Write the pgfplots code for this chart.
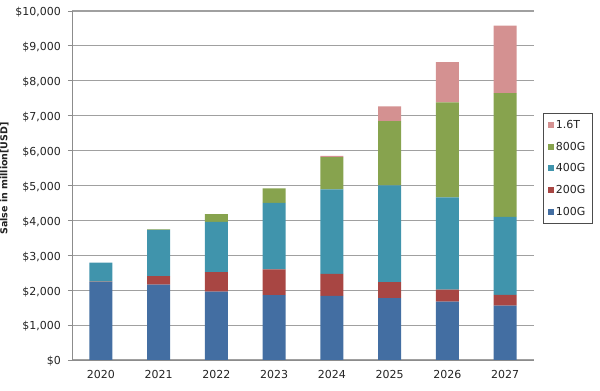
\documentclass[border=0pt]{standalone}
\usepackage{pgfplots}
\pgfplotsset{compat=1.18}
\usepackage{fontspec}
\setmainfont{DejaVu Sans}
\definecolor{c100}{RGB}{67,110,162}
\definecolor{c200}{RGB}{168,70,67}
\definecolor{c400}{RGB}{64,148,172}
\definecolor{c800}{RGB}{135,163,78}
\definecolor{c16}{RGB}{212,145,145}
\definecolor{gridc}{RGB}{160,160,160}
\definecolor{axc}{RGB}{140,140,140}
\definecolor{txt}{RGB}{35,35,35}
\pgfplotstableread{
x g100 g200 g400 g800 t16
0 2230 15 545 0 0
1 2160 240 1325 20 0
2 1960 560 1440 220 0
3 1860 740 1900 420 0
4 1840 630 2420 925 37
5 1770 460 2770 1845 420
6 1670 345 2645 2720 1155
7 1560 305 2235 3550 1930
}\data
\begin{document}
\begin{tikzpicture}
\useasboundingbox (0,0) rectangle (600bp,391bp);
\begin{axis}[
  at={(72bp,31bp)}, anchor=south west,
  width=462bp, height=349bp, scale only axis,
  ybar stacked, bar width=23bp,
  xmin=-0.5, xmax=7.5, ymin=0, ymax=10000,
  scaled ticks=false,
  axis x line*=bottom, axis y line*=left,
  axis line style={axc, line width=0.9bp},
  xtick={0,...,7},
  xticklabels={2020,2021,2022,2023,2024,2025,2026,2027},
  x tick style={draw=none},
  extra x ticks={-0.5,0.5,...,7.5},
  extra x tick labels={},
  extra x tick style={major tick length=4bp, tick style={axc, line width=0.9bp, draw=axc}, grid=none},
  ytick={0,1000,...,10000},
  yticklabels={\$0,\$1{,}000,\$2{,}000,\$3{,}000,\$4{,}000,\$5{,}000,\$6{,}000,\$7{,}000,\$8{,}000,\$9{,}000,\$10{,}000},
  tick align=outside, major tick length=4bp,
  y tick style={axc, line width=0.9bp},
  ymajorgrids, grid style={gridc, line width=1.1bp},
  tick label style={font=\fontsize{11bp}{12bp}\selectfont, text=txt},
  yticklabel style={xshift=-3.5bp, yshift=-1.5bp},
  xticklabel style={yshift=-3bp},
  ylabel={\bfseries Salse in million[USD]},
  ylabel style={font=\fontsize{9.5bp}{11bp}\selectfont, text=txt},
  every axis y label/.append style={at={(ticklabel cs:0.52)}},
  legend reversed,
  legend style={at={(1,0.5)}, anchor=west, xshift=9bp, yshift=17bp,
    draw=black!70, line width=0.9bp, fill=white,
    font=\fontsize{11bp}{12bp}\selectfont, text=txt,
    row sep=9bp, inner xsep=5bp, inner ysep=5bp,
    nodes={inner sep=1.5bp}},
  legend cell align=left,
  legend image code/.code={\fill[#1] (0bp,-3bp) rectangle (6bp,3bp);},
]
\addplot[fill=c100, draw=none] table[x=x,y=g100]{\data};
\addplot[fill=c200, draw=none] table[x=x,y=g200]{\data};
\addplot[fill=c400, draw=none] table[x=x,y=g400]{\data};
\addplot[fill=c800, draw=none] table[x=x,y=g800]{\data};
\addplot[fill=c16, draw=none] table[x=x,y=t16]{\data};
\legend{100G,200G,400G,800G,1.6T}
\end{axis}
\end{tikzpicture}
\end{document}
